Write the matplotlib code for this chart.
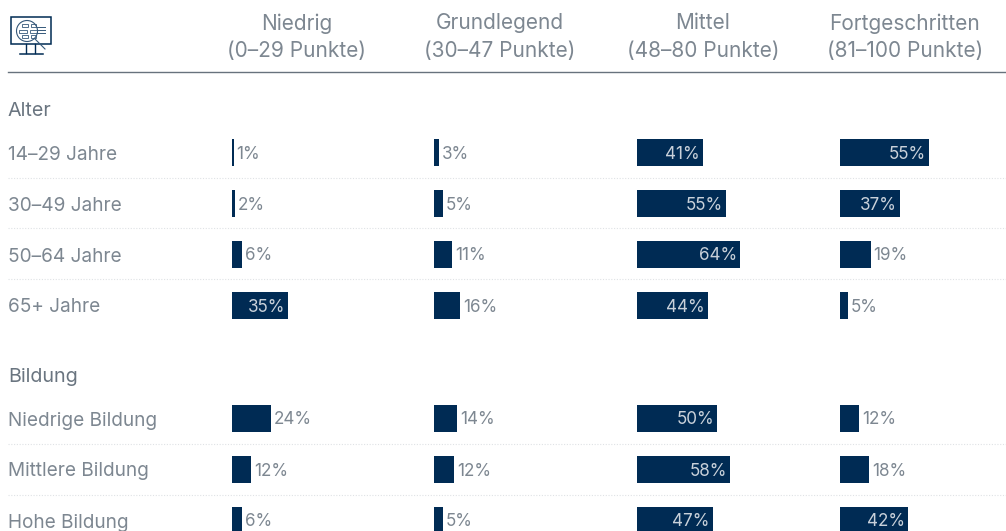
import matplotlib
matplotlib.use('Agg')
import matplotlib.pyplot as plt
from matplotlib.patches import Circle, Rectangle

## DATA ##
headers = ['Niedrig\n(0–29 Punkte)', 'Grundlegend\n(30–47 Punkte)',
           'Mittel\n(48–80 Punkte)', 'Fortgeschritten\n(81–100 Punkte)']
groups = ['Alter', 'Bildung']
row_labels = ['14–29 Jahre', '30–49 Jahre', '50–64 Jahre', '65+ Jahre',
              'Niedrige Bildung', 'Mittlere Bildung', 'Hohe Bildung']
niedrig = [1, 2, 6, 35, 24, 12, 6]
grundlegend = [3, 5, 11, 16, 14, 12, 5]
mittel = [41, 55, 64, 44, 50, 58, 47]
fortgeschritten = [55, 37, 19, 5, 12, 18, 42]

## LAYOUT (pixels) ##
W, H = 1006, 531
NAVY = '#002b54'
GREY = '#7d8791'
DARKGREY = '#6a7580'
INSIDE = '#c9d1da'
FONT = ['Inter', 'Roboto', 'DejaVu Sans']
plt.rcParams['font.family'] = FONT

col_x = [232, 434.5, 637, 840]
head_x = [297, 500, 703, 905]
row_y = [152.5, 203.5, 254, 305, 418, 469, 520]
group_y = [110.5, 376.5]
sep_y = [177.5, 228, 279, 444, 495]
SCALE = 1.61
BAR_H = 27

fig = plt.figure(figsize=(W / 100, H / 100), dpi=100)
ax = fig.add_axes([0, 0, 1, 1])
ax.set_xlim(0, W)
ax.set_ylim(H, 0)
ax.axis('off')

# header
for x, h in zip(head_x, headers):
    ax.text(x, 37, h, ha='center', va='center', fontsize=15, color=GREY,
            linespacing=1.45)
ax.plot([8, W], [72, 72], color='#67727d', lw=1)

for y, g in zip(group_y, groups):
    ax.text(8, y, g, va='center', fontsize=14.2, color=DARKGREY)

for y in sep_y:
    ax.plot([8, W], [y, y], color='#dfe2e5', lw=0.8, ls=(0, (1, 1.5)))

# rows
columns = [niedrig, grundlegend, mittel, fortgeschritten]
for x0, vals in zip(col_x, columns):
    for y, v in zip(row_y, vals):
        w = v * SCALE
        ax.barh(y, w, height=BAR_H, left=x0, color=NAVY, linewidth=0)
        if v >= 35:
            ax.text(x0 + w - 3, y + 2, f'{v}%', ha='right', va='center', fontsize=12.3,
                    color=INSIDE)
        else:
            ax.text(x0 + w + 3, y + 2, f'{v}%', ha='left', va='center', fontsize=12.3,
                    color=GREY)

for y, lab in zip(row_y, row_labels):
    ax.text(8, y + 2.5, lab, va='center', fontsize=13.7, color=GREY)

# monitor icon
ax.add_patch(Rectangle((11, 16.5), 40.5, 27.5, fc='white', ec=NAVY, lw=1.1))
ax.plot([26, 26], [44, 53], color=NAVY, lw=1)
ax.plot([35, 35], [44, 53], color=NAVY, lw=1)
ax.plot([20, 43], [53.5, 53.5], color=NAVY, lw=1.1)
ax.add_patch(Circle((27, 31), 10.5, fc='white', ec='#35587a', lw=0.8))
ax.plot([35, 45], [39, 49], color='#35587a', lw=0.8)
for yy in [27, 30, 33]:
    ax.plot([37, 45], [yy, yy], color='#35587a', lw=0.7)
for rx, ry, rw in [(22, 24, 6), (31, 24, 5), (19, 29.5, 8), (30, 29.5, 7), (22, 35, 6), (31, 35, 5)]:
    ax.add_patch(Rectangle((rx, ry), rw, 3, fc='none', ec='#35587a', lw=0.6))

fig.savefig('out.png', dpi=100)
